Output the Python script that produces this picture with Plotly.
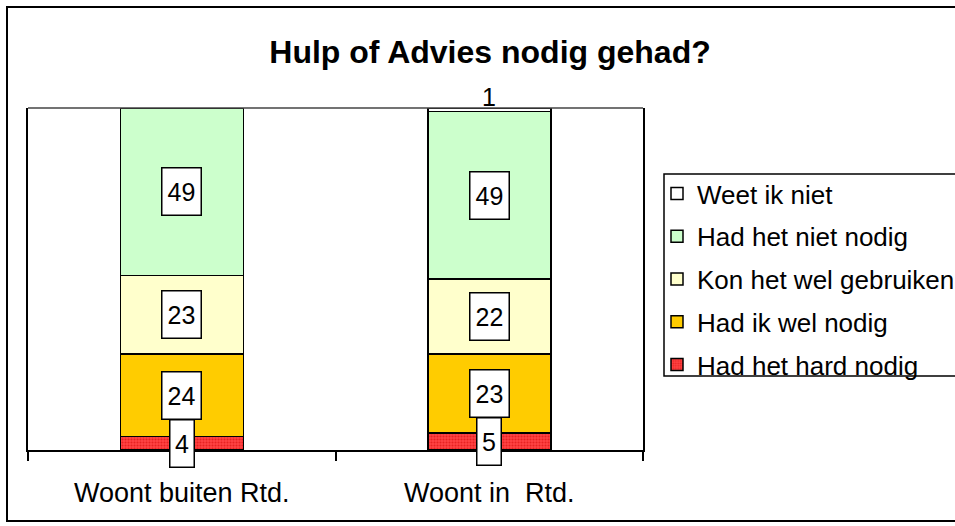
import plotly.graph_objects as go

categories = ["Woont buiten Rtd.", "Woont in\u00a0 Rtd."]
series = ["Had het hard nodig", "Had ik wel nodig", "Kon het wel gebruiken",
          "Had het niet nodig", "Weet ik niet"]
values = {
    "Had het hard nodig": [4, 5],
    "Had ik wel nodig": [24, 23],
    "Kon het wel gebruiken": [23, 22],
    "Had het niet nodig": [49, 49],
    "Weet ik niet": [0, 1],
}
colors = {
    "Had het hard nodig": "#FF3333",
    "Had ik wel nodig": "#FFCC00",
    "Kon het wel gebruiken": "#FFFFCC",
    "Had het niet nodig": "#CCFFCC",
    "Weet ik niet": "#FFFFFF",
}

FONT = "Liberation Sans, Arial, sans-serif"

fig = go.Figure()
for k, name in enumerate(series):
    marker = dict(color=colors[name], line=dict(color="black", width=1.5))
    if name == "Had het hard nodig":
        marker["pattern"] = dict(shape=".", fgcolor="#D00000", bgcolor="#FF4444",
                                 size=3, solidity=0.4)
    fig.add_trace(go.Bar(x=categories, y=values[name], name=name, width=0.4,
                         marker=marker, legendgroup=name, legendrank=len(series) - k))

# data labels in white boxes
base = [0, 0]
for name in series:
    for i, cat in enumerate(categories):
        v = values[name][i]
        if v == 0:
            continue
        if name == "Weet ik niet":
            fig.add_annotation(x=cat, y=base[i] + v, yshift=11, text=str(v),
                               showarrow=False, font=dict(family=FONT, size=25, color="black"))
        else:
            fig.add_annotation(x=cat, y=base[i] + v / 2, text=str(v), showarrow=False,
                               font=dict(family=FONT, size=25, color="black"),
                               bgcolor="white", bordercolor="black", borderwidth=1.5,
                               borderpad=1, width=36 if v >= 10 else 21, height=44)
        base[i] += v

fig.update_layout(
    barmode="stack",
    width=955, height=526,
    margin=dict(l=28, r=312, t=108, b=76, autoexpand=False),
    paper_bgcolor="white", plot_bgcolor="white",
    font=dict(family=FONT, size=24, color="black"),
    title=dict(text="<b>Hulp of Advies nodig gehad?</b>", x=490 / 955, xref="container",
               xanchor="center", y=1 - 52 / 526, yref="container", yanchor="middle",
               font=dict(family=FONT, size=32, color="black")),
    showlegend=True,
    legend=dict(x=(657 - 28) / 615, xanchor="left", y=(450 - 170) / 342, yanchor="top",
                traceorder="grouped", tracegroupgap=6,
                borderwidth=0, bgcolor="rgba(0,0,0,0)",
                font=dict(family=FONT, size=26, color="black"),
                itemwidth=30),
)
fig.update_xaxes(showline=True, linecolor="black", linewidth=2, ticks="outside",
                 tickson="boundaries", ticklen=9, tickwidth=2, tickcolor="black",
                 ticklabelstandoff=18, showgrid=False,
                 tickfont=dict(family=FONT, size=27, color="black"))
fig.update_yaxes(range=[0, 100], showline=True, mirror=True, linecolor="black",
                 linewidth=2, showticklabels=False, ticks="", showgrid=False,
                 zeroline=False)

# top edge of plot area, legend frame and outer chart frame
fig.add_shape(type="line", xref="paper", yref="paper", x0=0, x1=1, y0=1, y1=1,
              line=dict(color="#444444", width=1.5))
fig.add_shape(type="rect", xref="paper", yref="paper",
              x0=(664 - 28) / 615, x1=(975 - 28) / 615,
              y0=(450 - 376) / 342, y1=(450 - 174) / 342,
              line=dict(color="black", width=1.5))
fig.add_shape(type="rect", xref="paper", yref="paper",
              x0=(7 - 28) / 615, x1=(960 - 28) / 615,
              y0=(450 - 521) / 342, y1=(450 - 7) / 342,
              line=dict(color="black", width=2))

fig.write_html("out.html", config={"displayModeBar": False},
               post_script="document.body.style.margin='0';")
